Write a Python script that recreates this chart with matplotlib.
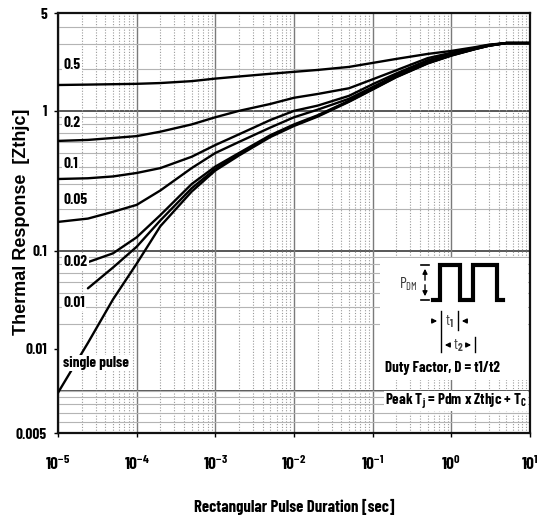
import matplotlib

matplotlib.use("Agg")
import matplotlib.pyplot as plt
import numpy as np
from matplotlib.patches import Rectangle
from matplotlib.ticker import LogLocator, NullFormatter

NARROW = "Barlow Condensed"
NARROW_MATH = "Barlow Condensed:weight=bold"
plt.rcParams["font.family"] = [NARROW, "DejaVu Sans"]
plt.rcParams["font.weight"] = "bold"
plt.rcParams["mathtext.fontset"] = "custom"
plt.rcParams["mathtext.rm"] = NARROW_MATH
plt.rcParams["mathtext.bf"] = NARROW_MATH
plt.rcParams["mathtext.it"] = NARROW_MATH

# pulse duration [s]
t = [1e-5, 2.4e-5, 5e-5, 1e-4, 2e-4, 5e-4, 1e-3, 2e-3, 5e-3, 1e-2,
     2e-2, 5e-2, 1e-1, 2e-1, 5e-1, 1, 2, 3, 5, 10]
nan = np.nan

# Zthjc, one list per duty factor
z_050 = [1.53, 1.54, 1.55, 1.56, 1.58, 1.63, 1.70, 1.76, 1.84, 1.90,
         1.96, 2.06, 2.20, 2.35, 2.55, 2.68, 2.85, 2.97, 3.05, 3.05]
z_020 = [0.61, 0.62, 0.64, 0.66, 0.71, 0.80, 0.90, 1.00, 1.12, 1.24,
         1.32, 1.45, 1.68, 1.95, 2.38, 2.60, 2.82, 2.95, 3.05, 3.05]
z_010 = [0.326, 0.33, 0.34, 0.36, 0.39, 0.47, 0.57, 0.68, 0.86, 1.00,
         1.09, 1.28, 1.55, 1.85, 2.30, 2.55, 2.80, 2.94, 3.05, 3.05]
z_005 = [0.161, 0.17, 0.19, 0.213, 0.27, 0.39, 0.50, 0.60, 0.76, 0.90,
         1.02, 1.22, 1.48, 1.80, 2.24, 2.52, 2.78, 2.93, 3.05, 3.05]
z_002 = [nan, 0.083, 0.096, 0.125, 0.18, 0.30, 0.40, 0.50, 0.67, 0.80,
         0.93, 1.18, 1.44, 1.76, 2.20, 2.50, 2.77, 2.92, 3.05, 3.05]
z_001 = [nan, 0.054, 0.076, 0.107, 0.165, 0.28, 0.385, 0.49, 0.66, 0.79,
         0.92, 1.17, 1.43, 1.75, 2.19, 2.49, 2.76, 2.92, 3.05, 3.05]
z_single = [0.0097, 0.022, 0.045, 0.081, 0.15, 0.265, 0.375, 0.48, 0.65, 0.78,
            0.91, 1.16, 1.42, 1.74, 2.18, 2.48, 2.76, 2.92, 3.05, 3.05]

curves = [z_050, z_020, z_010, z_005, z_002, z_001, z_single]
curve_names = ["0.5", "0.2", "0.1", "0.05", "0.02", "0.01", "single pulse"]
name_y = [2.13, 0.82, 0.42, 0.23, 0.083, 0.0425, 0.0158]

xtick_vals = [1e-5, 1e-4, 1e-3, 1e-2, 1e-1, 1, 10]
xtick_text = [r"$\mathbf{10^{-5}}$", r"$\mathbf{10^{-4}}$", r"$\mathbf{10^{-3}}$",
              r"$\mathbf{10^{-2}}$", r"$\mathbf{10^{-1}}$", r"$\mathbf{10^{0}}$",
              r"$\mathbf{10^{1}}$"]
# the source chart prints its "0.01" one gridline higher than the 0.01 line
ytick_vals = [0.005, 0.02, 0.1, 1, 5]
ytick_text = ["0.005", "0.01", "0.1", "1", "5"]
major_y = [0.01, 0.1, 1]

fig = plt.figure(figsize=(5.49, 5.19), dpi=100)
ax = fig.add_axes([58 / 549, 1 - 433 / 519, 472 / 549, 420 / 519])
ax.set_xscale("log")
ax.set_yscale("log")
ax.set_xlim(1e-5, 10)
ax.set_ylim(0.005, 5)

# grid
ax.xaxis.set_minor_locator(LogLocator(base=10, subs=np.arange(2, 10), numticks=20))
ax.yaxis.set_minor_locator(LogLocator(base=10, subs=np.arange(1, 10), numticks=20))
ax.xaxis.set_minor_formatter(NullFormatter())
ax.yaxis.set_minor_formatter(NullFormatter())
ax.grid(True, which="major", axis="x", color="#7a7a7a", lw=1.0, ls="-")
ax.grid(True, which="minor", axis="x", color="#9a9a9a", lw=0.8, ls=(0, (1, 1.5)))
ax.grid(True, which="minor", axis="y", color="#b4b4b4", lw=0.8, ls="-")
for yv in major_y:
    ax.axhline(yv, color="#4a4a4a", lw=1.3, zorder=1)

ax.set_xticks(xtick_vals, xtick_text)
ax.set_yticks(ytick_vals, ytick_text)
ax.tick_params(which="minor", length=0)
ax.tick_params(which="major", length=3, width=1, direction="out")
ax.tick_params(axis="x", pad=12, labelsize=12.5)
ax.tick_params(axis="y", pad=5, labelsize=11)

for s in ax.spines.values():
    s.set_linewidth(1.6)
    s.set_color("#111111")

for z in curves:
    ax.plot(t, z, color="black", lw=1.7, solid_capstyle="round", zorder=3)

for name, yv in zip(curve_names, name_y):
    ax.text(1.17e-5, yv, name, fontsize=11, ha="left", va="center", zorder=4,
            bbox=dict(facecolor="white", edgecolor="none", pad=1.0))

# inset: duty factor sketch, drawn in its own pixel-like frame
ins = ax.inset_axes([(380 - 58) / 472, (433 - 412) / 420, 148 / 472, 154 / 420], zorder=5)
ins.set_xlim(380, 528)
ins.set_ylim(412, 258)
ins.axis("off")
ins.add_patch(Rectangle((380, 253), 148, 127, facecolor="white", edgecolor="none"))
ins.plot([433, 440, 440, 460, 460, 473, 473, 497, 497, 503],
         [300, 300, 265, 265, 300, 300, 265, 265, 300, 300],
         color="black", lw=3.0, solid_joinstyle="miter")
# P_DM dimension
ins.plot([421, 429], [265, 265], color="black", lw=1.2)
ins.plot([421, 429], [300, 300], color="black", lw=1.2)
ins.annotate("", xy=(425, 266), xytext=(425, 283),
             arrowprops=dict(arrowstyle="-|>", color="black", lw=1, mutation_scale=7))
ins.annotate("", xy=(425, 299), xytext=(425, 282),
             arrowprops=dict(arrowstyle="-|>", color="black", lw=1, mutation_scale=7))
ins.text(418, 284, r"P$_{\mathregular{DM}}$", fontsize=11, ha="right", va="center",
         color="#333333", fontweight="normal")
# t1 / t2 markers
ins.plot([441, 441], [311, 352], color="black", lw=1.0)
ins.plot([458, 458], [311, 330], color="black", lw=1.0)
ins.plot([475, 475], [337, 352], color="black", lw=1.0)
ins.annotate("", xy=(440, 321), xytext=(429, 321),
             arrowprops=dict(arrowstyle="-|>", color="black", lw=1, mutation_scale=7))
ins.annotate("", xy=(459, 321), xytext=(470, 321),
             arrowprops=dict(arrowstyle="-|>", color="black", lw=1, mutation_scale=7))
ins.annotate("", xy=(442, 345), xytext=(451, 345),
             arrowprops=dict(arrowstyle="-|>", color="black", lw=1, mutation_scale=7))
ins.annotate("", xy=(474, 345), xytext=(465, 345),
             arrowprops=dict(arrowstyle="-|>", color="black", lw=1, mutation_scale=7))
ins.text(449.5, 322, r"t$_1$", fontsize=11, ha="center", va="center", color="#444444",
         fontweight="normal")
ins.text(458, 346, r"t$_2$", fontsize=11, ha="center", va="center", color="#444444",
         fontweight="normal")
ins.text(385, 368, "Duty Factor, D = t1/t2", fontsize=10.8, ha="left", va="center",
         clip_on=False, bbox=dict(facecolor="white", edgecolor="none", pad=0.5))
ins.text(385, 401, r"Peak T$_\mathregular{j}$ = Pdm x Zthjc + T$_\mathregular{C}$",
         fontsize=10.8, ha="left", va="center", clip_on=False,
         bbox=dict(facecolor="white", edgecolor="none", pad=0.5))

fig.text(22 / 549, 1 - 222 / 519, "Thermal Response  [Zthjc]", rotation=90,
         ha="center", va="center", fontsize=13, fontweight="bold",
         family=["Liberation Sans", "DejaVu Sans"])
fig.text(294 / 549, 1 - 507 / 519, "Rectangular Pulse Duration [sec]",
         ha="center", va="center", fontsize=12)

fig.savefig("out.png", dpi=100)
